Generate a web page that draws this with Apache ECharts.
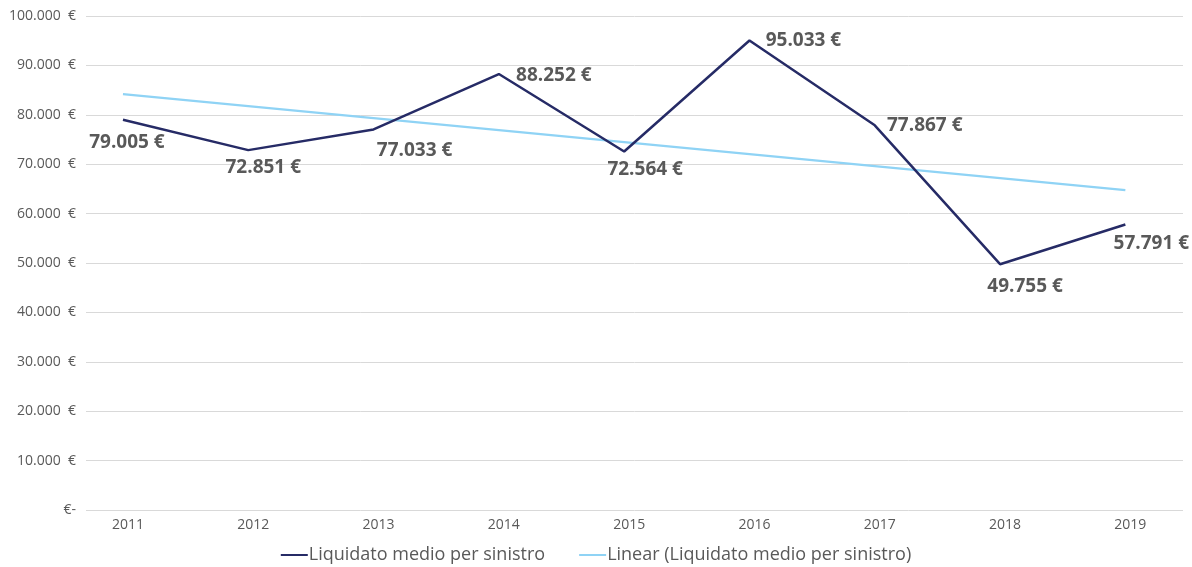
<!DOCTYPE html>
<html>
<head>
<meta charset="utf-8">
<script src="https://cdn.jsdelivr.net/npm/echarts@6/dist/echarts.min.js"></script>
<style>
    html, body { margin: 0; padding: 0; background: #fff; }
    #chart { width: 1192px; height: 567px; }
</style>
</head>
<body>
<div id="chart"></div>
<script>
const years = ['2011', '2012', '2013', '2014', '2015', '2016', '2017', '2018', '2019']
const liquidato = [79005, 72851, 77033, 88252, 72564, 95033, 77867, 49755, 57791]
// linea di tendenza
const trend = [84174, 81746, 79318, 76889, 74461, 72033, 69605, 67177, 64748]
// spostamento delle etichette rispetto al punto
const labelOffsets = [[4, 23], [15, 17], [41, 21], [55, 2], [21, 18], [54, 0], [50, 0], [25, 22], [26, 19]]

const sep = v => String(Math.round(v)).replace(/\B(?=(\d{3})+(?!\d))/g, '.')
const fmtAxis = v => (v === 0 ? '€-' : sep(v) + '  €')
const fmtLabel = v => sep(v) + ' €'

const chart = echarts.init(document.getElementById('chart'))
const options = {
    animation: false,
    textStyle: { fontFamily: 'Open Sans' },
    grid: { left: 86, right: 9, top: 16, bottom: 57, containLabel: false },
    legend: {
        top: 541,
        left: 'center',
        icon: 'rect',
        itemWidth: 27,
        itemHeight: 2,
        itemGap: 34,
        textStyle: { color: '#595959', fontSize: 18, fontFamily: 'Open Sans', padding: [0, 0, 0, -4] },
        data: ['Liquidato medio per sinistro', 'Linear (Liquidato medio per sinistro)']
    },
    xAxis: {
        type: 'value',
        min: -0.295,
        max: 8.46,
        axisLine: { show: false },
        axisTick: { show: false },
        splitLine: { show: false },
        axisLabel: {
            customValues: years.map((y, i) => i),
            formatter: v => years[v],
            color: '#595959',
            fontSize: 14,
            margin: 8,
            padding: [0, 0, 0, 10]
        }
    },
    yAxis: {
        type: 'value',
        min: 0,
        max: 100000,
        interval: 10000,
        axisLine: { show: false },
        axisTick: { show: false },
        splitLine: { lineStyle: { color: '#d9d9d9', width: 1 } },
        axisLabel: {
            formatter: fmtAxis,
            color: '#595959',
            fontSize: 14,
            margin: 10
        }
    },
    series: [
        {
            name: 'Liquidato medio per sinistro',
            type: 'line',
            color: '#262b66',
            data: liquidato.map((v, i) => ({
                value: [i, v],
                label: { offset: labelOffsets[i] }
            })),
            symbol: 'circle',
            symbolSize: 0.1,
            lineStyle: { width: 2.5, color: '#262b66' },
            label: {
                show: true,
                position: 'inside',
                formatter: p => fmtLabel(p.value[1]),
                color: '#595959',
                fontSize: 19,
                fontWeight: 'bold',
                fontFamily: 'Open Sans'
            },
            z: 3
        },
        {
            name: 'Linear (Liquidato medio per sinistro)',
            type: 'line',
            color: '#8fd3f5',
            data: trend.map((v, i) => [i, v]),
            symbol: 'none',
            lineStyle: { width: 2.25, color: '#8fd3f5' },
            z: 2
        }
    ]
}
chart.setOption(options)
window.addEventListener('resize', () => chart.resize())
</script>
</body>
</html>
